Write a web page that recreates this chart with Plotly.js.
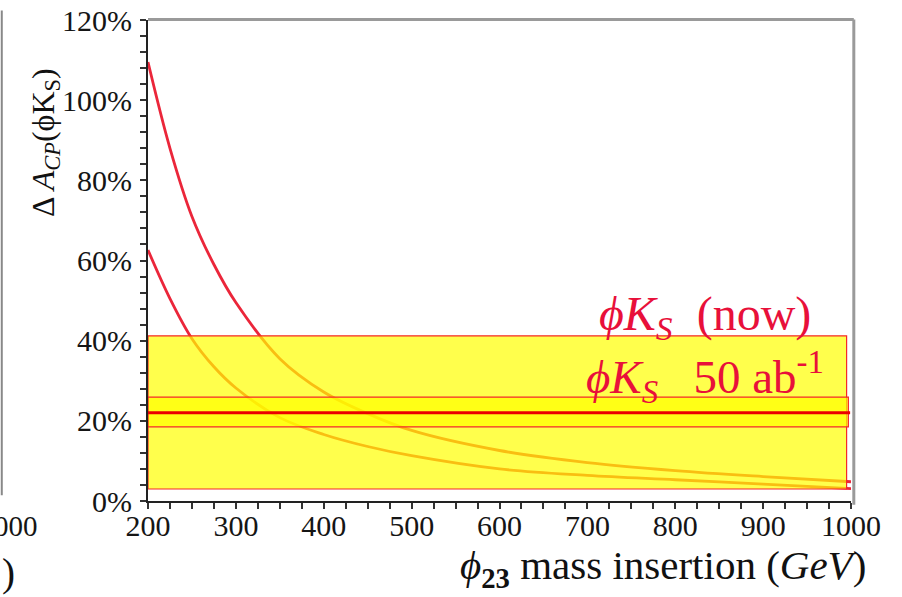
<!DOCTYPE html>
<html>
<head>
<meta charset="utf-8">
<script src="https://cdn.plot.ly/plotly-3.0.1.min.js"></script>
<style>
  html, body { margin: 0; padding: 0; background: #ffffff; }
  #chart { width: 902px; height: 597px; }
</style>
</head>
<body>
<div id="chart"></div>
<script>
// ---- data ----
const mass = [200, 225, 250, 275, 300, 350, 400, 450, 500, 600, 700, 800, 900, 1000];
const upperCurve = [109.5, 88, 71, 59, 49.5, 35.5, 27.2, 21.8, 17.6, 12.6, 9.6, 7.6, 6.1, 4.8];
const lowerCurve = [62.6, 50.5, 40.5, 33.5, 28.2, 20.8, 16.6, 13.6, 11.3, 8.0, 6.4, 5.3, 4.2, 3.1];

const centralValue = 22;           // measured ΔA_CP(φK_S) central value (%)
const bandNames = ['now', '50 ab-1'];
const bandLow  = [3, 18.5];        // %
const bandHigh = [41.2, 25.9];     // %
const bandXStart = [200, 200];
const bandXEnd   = [995, 997];
const centralXEnd = 999;

const xTickVals = [200, 300, 400, 500, 600, 700, 800, 900, 1000];
const xTickText = ['200', '300', '400', '500', '600', '700', '800', '900', '1000'];
const yTickVals = [0, 20, 40, 60, 80, 100, 120];
const yTickText = ['0%', '20%', '40%', '60%', '80%', '100%', '120%'];

// ---- traces ----
const red = 'rgb(235,38,58)';
const traces = [];
traces.push({x: mass, y: upperCurve, mode: 'lines', line: {color: red, width: 2.8, shape: 'spline'}, hoverinfo: 'skip'});
traces.push({x: mass, y: lowerCurve, mode: 'lines', line: {color: red, width: 2.8, shape: 'spline'}, hoverinfo: 'skip'});

for (let i = 0; i < bandNames.length; i++) {
  const x0 = bandXStart[i], x1 = bandXEnd[i];
  traces.push({
    x: [x0, x1, x1, x0, x0],
    y: [bandLow[i], bandLow[i], bandHigh[i], bandHigh[i], bandLow[i]],
    mode: 'lines', fill: 'toself',
    fillcolor: 'rgba(255,255,0,0.7)',
    line: {color: 'rgb(245,40,40)', width: 1.2},
    name: bandNames[i], hoverinfo: 'skip'
  });
}
traces.push({x: [bandXStart[0], centralXEnd], y: [centralValue, centralValue], mode: 'lines',
  line: {color: 'rgb(235,0,0)', width: 3}, hoverinfo: 'skip'});

const serif = 'Liberation Serif';
const textRed = 'rgb(232,16,58)';
const tickFont = {family: serif, size: 30, color: '#151515'};

const layout = {
  width: 902, height: 597,
  margin: {l: 148, r: 51, t: 20, b: 96},
  paper_bgcolor: '#ffffff', plot_bgcolor: '#ffffff',
  showlegend: false, hovermode: false,
  font: {family: serif, size: 30, color: '#151515'},
  xaxis: {
    range: [200, 1000], tickmode: 'array', tickvals: xTickVals, ticktext: xTickText,
    showgrid: false, zeroline: false,
    showline: true, linecolor: '#222', linewidth: 2,
    ticks: 'outside', ticklen: 6, tickwidth: 2, tickcolor: '#333',
    minor: {dtick: 25, ticks: 'outside', ticklen: 6, tickwidth: 2, tickcolor: '#333', showgrid: false},
    tickfont: tickFont, ticklabelstandoff: -9
  },
  yaxis: {
    range: [0, 120], tickmode: 'array', tickvals: yTickVals, ticktext: yTickText,
    showgrid: false, zeroline: false,
    showline: true, linecolor: '#222', linewidth: 2,
    ticks: 'outside', ticklen: 6, tickwidth: 2, tickcolor: '#333',
    minor: {dtick: 4, ticks: 'outside', ticklen: 6, tickwidth: 2, tickcolor: '#333', showgrid: false},
    tickfont: tickFont, ticklabelstandoff: 2
  },
  shapes: [
    {type: 'line', xref: 'paper', yref: 'paper', x0: 0, x1: 1.004, y0: 1.001, y1: 1.001, line: {color: '#9a9a9a', width: 3}},
    {type: 'line', xref: 'paper', yref: 'paper', x0: 1.004, x1: 1.004, y0: -0.008, y1: 1.001, line: {color: '#9a9a9a', width: 3}},
    {type: 'line', xref: 'paper', yref: 'paper', x0: -0.208, x1: -0.208, y0: 0.012, y1: 1.02, line: {color: '#888', width: 2}}
  ],
  annotations: [
    {xref: 'paper', yref: 'paper', x: -0.146, y: 0.745, xanchor: 'center', yanchor: 'middle', textangle: -90,
     showarrow: false, font: {family: serif, size: 32, color: '#111'},
     text: 'Δ <i>A</i><sub><i>CP</i></sub>(ϕK<sub>S</sub>)'},
    {xref: 'paper', yref: 'paper', x: 1.024, y: -0.1975, xanchor: 'right', yanchor: 'bottom',
     showarrow: false, font: {family: serif, size: 41, color: '#111'},
     text: '<i>ϕ</i><sub><b>23</b></sub> mass insertion (<i>GeV</i>)'},
    {xref: 'paper', yref: 'paper', x: 0.638, y: 0.383, xanchor: 'left', yanchor: 'middle',
     showarrow: false, font: {family: serif, size: 48, color: textRed},
     text: '<i>ϕK<sub>S</sub></i>\u00a0\u00a0(now)'},
    {xref: 'paper', yref: 'paper', x: 0.620, y: 0.257, xanchor: 'left', yanchor: 'middle',
     showarrow: false, font: {family: serif, size: 47, color: textRed},
     text: '<i>ϕK<sub>S</sub></i>\u00a0\u00a0\u00a050 ab<sup>-1</sup>'},
    {xref: 'paper', yref: 'paper', x: -0.1536, y: -0.052, xanchor: 'right', yanchor: 'middle',
     showarrow: false, font: {family: serif, size: 29, color: '#151515'}, text: '000'},
    {xref: 'paper', yref: 'paper', x: -0.186, y: -0.15, xanchor: 'right', yanchor: 'middle',
     showarrow: false, font: {family: serif, size: 39, color: '#111'}, text: ')'}
  ]
};

Plotly.newPlot('chart', traces, layout, {displayModeBar: false, staticPlot: true});
</script>
</body>
</html>
